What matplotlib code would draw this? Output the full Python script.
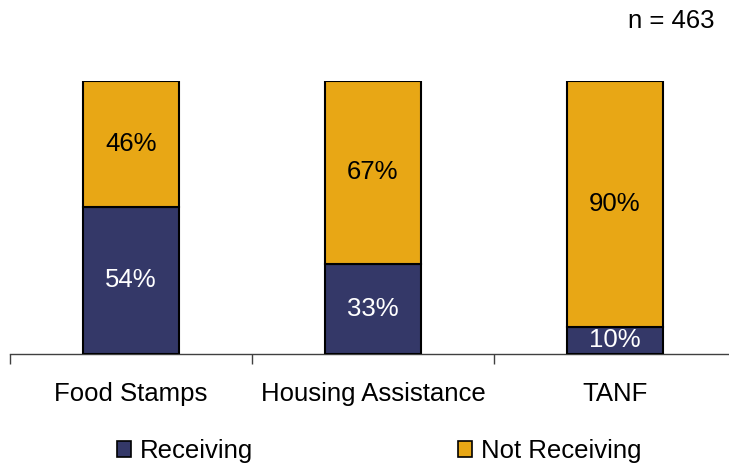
import matplotlib
matplotlib.use("Agg")
import matplotlib.pyplot as plt
from matplotlib.patches import Patch

categories = ["Food Stamps", "Housing Assistance", "TANF"]
receiving = [54, 33, 10]
not_receiving = [46, 67, 90]
series_names = ["Receiving", "Not Receiving"]
note = "n = 463"

navy = "#343868"
gold = "#E8A715"

plt.rcParams['font.family'] = ['Liberation Sans', 'DejaVu Sans']
FS = 18.5

W, H = 729, 466
fig = plt.figure(figsize=(W/100, H/100), dpi=100)
ax = fig.add_axes([10/W, (H-354)/H, 726/W, 273/H])

x = list(range(len(categories)))
bw = 0.395
ax.bar(x, receiving, bw, color=navy, edgecolor="black", linewidth=1.5, zorder=3)
ax.bar(x, not_receiving, bw, bottom=receiving, color=gold, edgecolor="black", linewidth=1.5, zorder=3)

for i in x:
    ax.text(i, receiving[i]/2, f"{receiving[i]}%", ha="center", va="center",
            color="white", fontsize=FS, zorder=4)
    ax.text(i, receiving[i] + not_receiving[i]/2, f"{not_receiving[i]}%", ha="center",
            va="center", color="black", fontsize=FS, zorder=4)

ax.set_xlim(-0.5, len(categories)-0.5)
ax.set_ylim(0, 100)
for s in ["top", "right", "left"]:
    ax.spines[s].set_visible(False)
ax.spines["bottom"].set_color("#404040")
ax.spines["bottom"].set_linewidth(1.0)
ax.set_yticks([])
ax.set_xticks(x)
ax.set_xticklabels(categories, fontsize=FS)
ax.tick_params(axis="x", which="major", length=0, pad=20)
ax.set_xticks([i - 0.5 for i in range(len(categories)+1)], minor=True)
ax.tick_params(axis="x", which="minor", length=7, width=1.0, color="#404040", direction="out")

handles = [Patch(facecolor=navy, edgecolor="black", linewidth=1.2),
           Patch(facecolor=gold, edgecolor="black", linewidth=1.2)]
fig.legend(handles, series_names, loc="center", bbox_to_anchor=(379/W, 1 - 451/H),
           ncol=2, frameon=False, fontsize=FS, handlelength=0.55, handleheight=0.55,
           handletextpad=0.35, columnspacing=7.96, borderpad=0)

fig.text(715/W, 1 - 21/H, note, ha="right", va="center", fontsize=FS)

fig.savefig("out.png", dpi=100)
